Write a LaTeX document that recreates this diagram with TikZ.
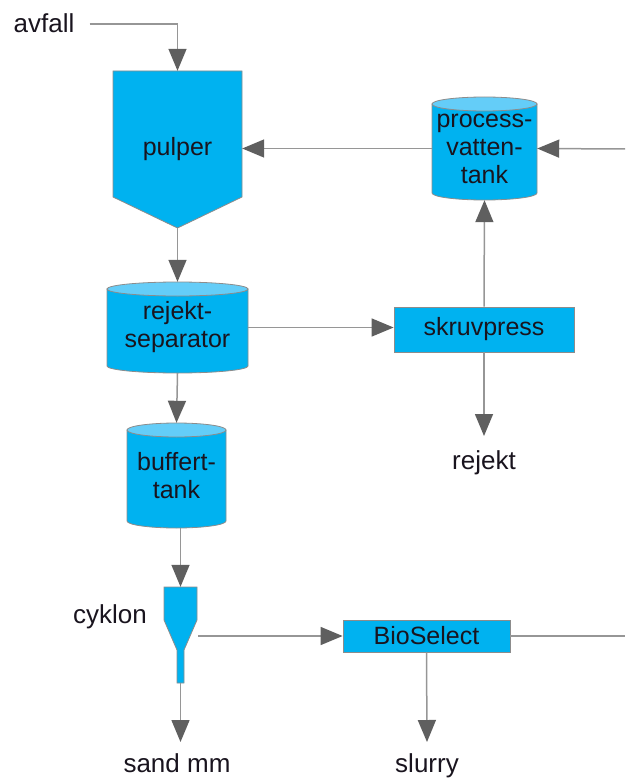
\documentclass[tikz,border=0pt]{standalone}
\usepackage{fontspec}
\setmainfont{Liberation Sans}
\usetikzlibrary{arrows.meta,calc}
\definecolor{boxfill}{RGB}{0,178,240}
\definecolor{topfill}{RGB}{100,205,248}
\definecolor{edge}{RGB}{140,140,140}
\definecolor{wire}{RGB}{150,150,150}
\definecolor{headc}{RGB}{95,95,95}
\definecolor{ink}{RGB}{25,20,30}
\newcommand\mycyl[4]{% xl xr ytop ybot
  \pgfmathsetmacro\cx{(#1+#2)/2}%
  \pgfmathsetmacro\rx{(#2-#1)/2}%
  \filldraw[shapebox] (#1,#3+7) -- (#1,#4-7) arc[start angle=180,end angle=0,x radius=\rx,y radius=7] -- (#2,#3+7) -- cycle;
  \filldraw[shapebox,fill=topfill] (\cx,#3+7) ellipse[x radius=\rx,y radius=7];
}
\begin{document}
\begin{tikzpicture}[x=1pt,y=-1pt,
  wirearrow/.style={draw=wire,line width=1.5pt,-{Triangle[length=22pt,width=18pt,color=headc]}},
  wireline/.style={draw=wire,line width=1.5pt},
  shapebox/.style={fill=boxfill,draw=edge,line width=0.8pt},
  lbl/.style={font=\fontsize{26}{30}\selectfont,text=ink,inner sep=0pt},
  boxtext/.style={font=\fontsize{25}{28}\selectfont,text=ink,align=center,inner sep=0pt},
  ]
\useasboundingbox (0,0) rectangle (625,778);
% shapes drawn directly
\filldraw[shapebox] (113,71) -- (242,71) -- (242,197) -- (177.5,228) -- (113,197) -- cycle;
\mycyl{432}{537}{97}{200}
\mycyl{107}{248}{282}{373}
\mycyl{127}{226}{423}{528}
\filldraw[shapebox] (164,587) -- (197,587) -- (197,620) -- (184,650) -- (184,683) -- (177,683) -- (177,650) -- (164,620) -- cycle;
% nodes
\node[lbl] (avfall) at (44,23) {avfall};
\node[boxtext,minimum width=129pt,minimum height=157pt] (pulper) at (177.5,149.5) {pulper};
\node[boxtext,minimum width=105pt,minimum height=103pt] (tank) at (484.5,148.5) {process-\\vatten-\\tank};
\node[boxtext,minimum width=141pt,minimum height=91pt] (rejsep) at (177.5,327.5) {rejekt-\\separator};
\node[boxtext,shapebox,minimum width=180pt,minimum height=45pt] (skruv) at (484,329.5) {skruvpress};
\node[lbl] (rejekt) at (484,463) {rejekt};
\node[boxtext,minimum width=99pt,minimum height=105pt] (buff) at (176.5,475.5) {buffert-\\tank};
\node[minimum width=33pt,minimum height=96pt,inner sep=0pt] (cyk) at (180.5,635) {};
\node[lbl] (cyklbl) at (110,617) {cyklon};
\node[boxtext,shapebox,minimum width=167pt,minimum height=32pt] (bio) at (426.5,636) {BioSelect};
\node[lbl,anchor=base] (sand) at (177,772) {sand mm};
\node[lbl,anchor=base] (slurry) at (427,772) {slurry};
\coordinate (inR) at (625,149);
\coordinate (outR) at (625,636);
\coordinate (rejtip) at (484,436);
\coordinate (sandtip) at (180.5,742);
\coordinate (slurtip) at (427,742);
% connectors
\draw[wirearrow] ($(avfall.east)+(15,1)$) -| (pulper.north);
\draw[wirearrow] (inR) -- (tank.east);
\draw[wirearrow] (tank.west) -- (tank.west -| pulper.east);
\draw[wirearrow] (pulper.south) -- (rejsep.north);
\draw[wirearrow] (rejsep.east) -- (rejsep.east -| skruv.west);
\draw[wirearrow] (skruv.north) -- (tank.south);
\draw[wirearrow] (skruv.south) -- (rejtip);
\draw[wirearrow] (rejsep.south) -- (buff.north);
\draw[wirearrow] (cyk.north |- buff.south) -- (cyk.north);
\draw[wirearrow] ($(cyk.east)+(1,1)$) -- (bio.west);
\draw[wireline] (bio.east) -- (outR);
\draw[wirearrow] (bio.south) -- (slurtip);
\draw[wirearrow] (cyk.south) -- (sandtip);
\end{tikzpicture}
\end{document}
